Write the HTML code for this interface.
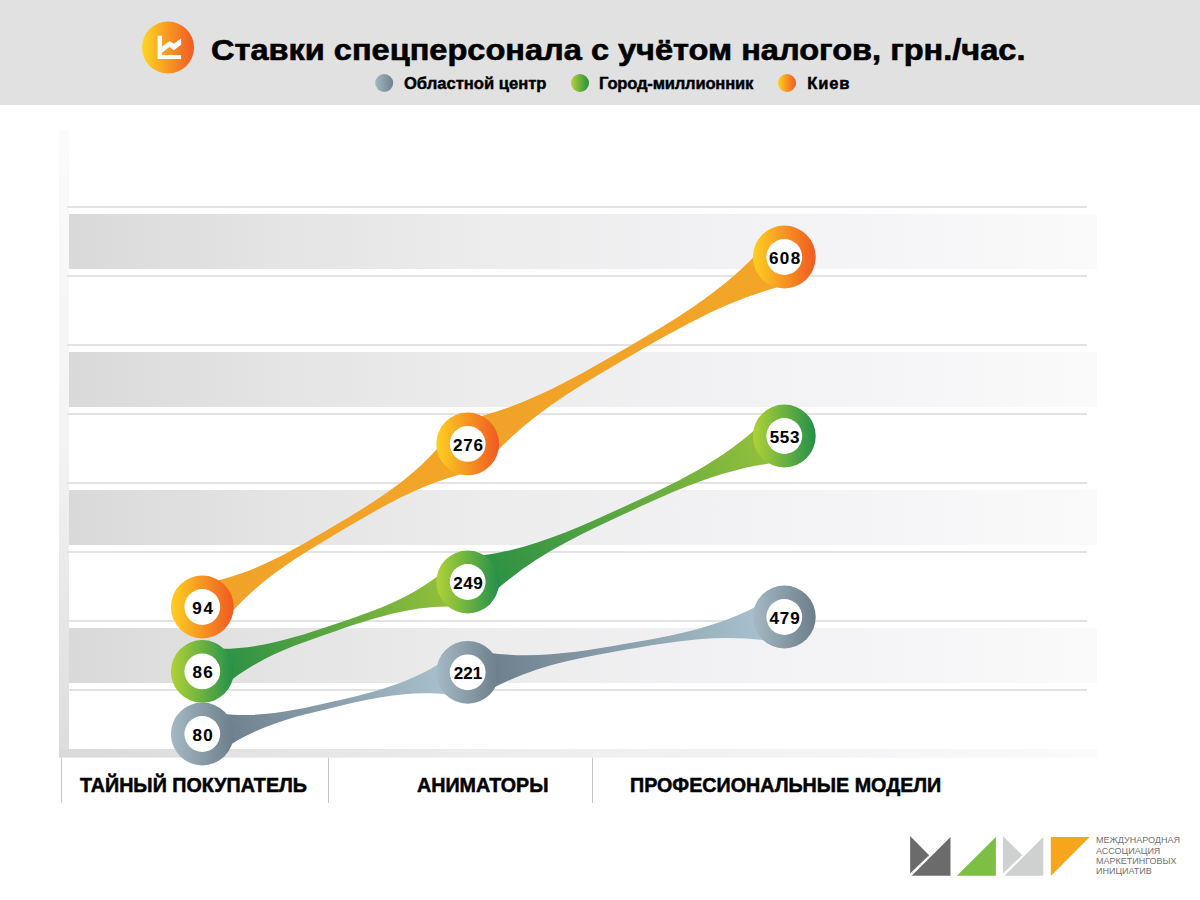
<!DOCTYPE html>
<html><head><meta charset="utf-8">
<style>
html,body{margin:0;padding:0;background:#fff;}
body{width:1200px;height:900px;overflow:hidden;}
svg{display:block;}
text{font-family:"Liberation Sans",sans-serif;}
.num{font-size:17px;font-weight:bold;text-anchor:middle;fill:#000;stroke:#000;stroke-width:0.1px;}
.title{font-size:32.55px;font-weight:bold;fill:#000;stroke:#000;stroke-width:0.7px;}
.leg{font-size:16.6px;font-weight:bold;fill:#000;stroke:#000;stroke-width:0.45px;}
.cat{font-size:19.7px;font-weight:bold;fill:#000;stroke:#000;stroke-width:0.5px;}
.logo{font-size:9px;fill:#727272;}
</style></head><body>
<svg width="1200" height="900" viewBox="0 0 1200 900">
<defs>
<linearGradient id="band" x1="0" y1="0" x2="1" y2="0"><stop offset="0" stop-color="#d9d9d9"/><stop offset="0.2" stop-color="#e4e4e5"/><stop offset="0.4" stop-color="#ececed"/><stop offset="0.7" stop-color="#f3f3f5"/><stop offset="1" stop-color="#fafafb"/></linearGradient>
<linearGradient id="vbar" x1="0" y1="0" x2="0" y2="1"><stop offset="0" stop-color="#fbfbfb"/><stop offset="0.5" stop-color="#f3f3f3"/><stop offset="1" stop-color="#dcdcdc"/></linearGradient>
<linearGradient id="icon" x1="0" y1="0" x2="1" y2="0"><stop offset="0" stop-color="#fdd722"/><stop offset="1" stop-color="#f15a22"/></linearGradient>
<linearGradient id="lgy" x1="0" y1="0" x2="1" y2="0"><stop offset="0" stop-color="#a3b7c3"/><stop offset="1" stop-color="#6f828e"/></linearGradient>
<linearGradient id="lgr" x1="0" y1="0" x2="1" y2="0"><stop offset="0" stop-color="#b3d236"/><stop offset="1" stop-color="#26903f"/></linearGradient>
<linearGradient id="lor" x1="0" y1="0" x2="1" y2="0"><stop offset="0" stop-color="#fdd021"/><stop offset="1" stop-color="#f05922"/></linearGradient>
<linearGradient id="ring_gy" x1="0" y1="0" x2="1" y2="0"><stop offset="0" stop-color="#a5b9c5"/><stop offset="1" stop-color="#6b7e8a"/></linearGradient><linearGradient id="rib_gy_0" gradientUnits="userSpaceOnUse" x1="227.3" y1="735.0" x2="442.7" y2="673.3"><stop offset="0" stop-color="#6e808d"/><stop offset="1" stop-color="#a8c0cd"/></linearGradient><linearGradient id="rib_gy_1" gradientUnits="userSpaceOnUse" x1="492.7" y1="674.3" x2="759.3" y2="619.0"><stop offset="0" stop-color="#6e808d"/><stop offset="1" stop-color="#a8c0cd"/></linearGradient><linearGradient id="ring_gr" x1="0" y1="0" x2="1" y2="0"><stop offset="0" stop-color="#b1d236"/><stop offset="1" stop-color="#23904a"/></linearGradient><linearGradient id="rib_gr_0" gradientUnits="userSpaceOnUse" x1="227.3" y1="672.4" x2="442.7" y2="583.0"><stop offset="0" stop-color="#2c9145"/><stop offset="1" stop-color="#92bf3b"/></linearGradient><linearGradient id="rib_gr_1" gradientUnits="userSpaceOnUse" x1="492.7" y1="582.5" x2="759.3" y2="436.5"><stop offset="0" stop-color="#2c9145"/><stop offset="1" stop-color="#92bf3b"/></linearGradient><linearGradient id="ring_or" x1="0" y1="0" x2="1" y2="0"><stop offset="0" stop-color="#fdd021"/><stop offset="1" stop-color="#f05922"/></linearGradient><linearGradient id="rib_or_0" gradientUnits="userSpaceOnUse" x1="227.3" y1="609.0" x2="442.7" y2="450.9"><stop offset="0" stop-color="#f1a228"/><stop offset="1" stop-color="#f2a527"/></linearGradient><linearGradient id="rib_or_1" gradientUnits="userSpaceOnUse" x1="492.7" y1="445.4" x2="759.3" y2="261.5"><stop offset="0" stop-color="#f1a228"/><stop offset="1" stop-color="#f2a527"/></linearGradient>
</defs>
<rect x="0" y="0" width="1200" height="105" fill="#e1e1e1"/>
<circle cx="168" cy="47.5" r="26" fill="url(#icon)"/>
<path d="M157.6,35.8 H161.9 V54.9 H181.1 V59 H157.6 Z" fill="#fcfcfc"/>
<path d="M161.5,47.1 L169.46,40.89 L173.74,43.81 L181.1,38.6 L181.1,44.79 L173.74,50.23 L169.46,47.12 L161.5,53 Z" fill="#fcfcfc"/>
<text x="211" y="0" class="title" transform="translate(0,59.6) scale(1,0.92)">Ставки спецперсонала с учётом налогов, грн./час.</text>
<circle cx="384.2" cy="83" r="9" fill="url(#lgy)"/>
<text x="403.9" y="89.3" class="leg">Областной центр</text>
<circle cx="580" cy="83" r="9" fill="url(#lgr)"/>
<text x="599" y="89.3" class="leg" letter-spacing="-0.2">Город-миллионник</text>
<circle cx="787" cy="83" r="9" fill="url(#lor)"/>
<text x="807.2" y="89.3" class="leg" letter-spacing="0.85">Киев</text>

<rect x="59" y="130" width="10" height="627" fill="url(#vbar)"/>
<rect x="67" y="206" width="1020" height="2" fill="#e3e3e3"/><rect x="67" y="275" width="1020" height="2" fill="#e3e3e3"/><rect x="67" y="344" width="1020" height="2" fill="#e3e3e3"/><rect x="67" y="413" width="1020" height="2" fill="#e3e3e3"/><rect x="67" y="482" width="1020" height="2" fill="#e3e3e3"/><rect x="67" y="551" width="1020" height="2" fill="#e3e3e3"/><rect x="67" y="620" width="1020" height="2" fill="#e3e3e3"/><rect x="67" y="689" width="1020" height="2" fill="#e3e3e3"/>
<rect x="69" y="214" width="1028" height="55" fill="url(#band)"/><rect x="69" y="352" width="1028" height="55" fill="url(#band)"/><rect x="69" y="490" width="1028" height="55" fill="url(#band)"/><rect x="69" y="628" width="1028" height="55" fill="url(#band)"/>
<rect x="59" y="749" width="1038" height="8.6" fill="url(#band)"/>
<rect x="61" y="757.6" width="1" height="45.4" fill="#c8c8c8"/>
<rect x="328" y="757.6" width="1" height="45.4" fill="#c8c8c8"/>
<rect x="592" y="757.6" width="1" height="45.4" fill="#c8c8c8"/>
<text x="80" y="791.6" class="cat">ТАЙНЫЙ ПОКУПАТЕЛЬ</text>
<text x="417" y="791.6" class="cat">АНИМАТОРЫ</text>
<text x="630" y="791.6" class="cat">ПРОФЕСИОНАЛЬНЫЕ МОДЕЛИ</text>

<path d="M196.19,708.70 C245.88,721.89 290.11,711.61 334.34,701.33 C378.58,691.04 422.81,680.76 461.59,647.00 L473.81,699.60 C424.12,686.41 379.89,696.69 335.66,706.97 C291.42,717.26 247.19,727.54 208.41,761.30 Z" fill="url(#rib_gy_0)"/><path d="M463.05,647.70 C519.97,662.23 572.73,653.01 625.50,643.79 C678.27,634.58 731.03,625.36 779.65,592.40 L788.87,645.13 C732.03,631.07 679.27,640.29 626.50,649.51 C573.73,658.72 520.97,667.94 472.27,700.43 Z" fill="url(#rib_gy_1)"/><path d="M193.68,646.81 C245.45,654.28 289.68,639.38 333.91,624.48 C378.15,609.58 422.38,594.68 459.08,557.41 L476.32,608.59 C424.55,601.12 380.32,616.02 336.09,630.92 C291.85,645.82 247.62,660.72 210.92,697.99 Z" fill="url(#rib_gr_0)"/><path d="M456.39,557.98 C519.04,555.08 571.81,530.75 624.58,506.41 C677.34,482.08 730.11,457.75 772.99,411.98 L795.61,461.02 C732.96,463.92 680.19,488.25 627.42,512.59 C574.66,536.92 521.89,561.25 479.01,607.02 Z" fill="url(#rib_gr_1)"/><path d="M188.48,585.80 C244.54,579.30 288.77,552.95 333.00,526.60 C377.24,500.25 421.47,473.90 453.88,427.70 L479.56,469.82 C425.46,480.60 381.23,506.95 337.00,533.30 C292.76,559.65 248.53,586.00 216.00,631.99 Z" fill="url(#rib_or_0)"/><path d="M454.14,422.05 C518.21,410.86 570.97,380.21 623.74,349.56 C676.51,318.91 729.27,288.26 770.74,238.15 L796.78,282.62 C733.79,296.04 681.03,326.69 628.26,357.34 C575.49,387.99 522.73,418.64 481.26,468.75 Z" fill="url(#rib_or_1)"/>
<circle cx="202.3" cy="734.0" r="31.4" fill="url(#ring_gy)"/><circle cx="202.3" cy="734.0" r="17.9" fill="#fff"/><text x="202.60" y="740.7" class="num" textLength="20.4" lengthAdjust="spacing">80</text><circle cx="467.7" cy="672.3" r="31.4" fill="url(#ring_gy)"/><circle cx="467.7" cy="672.3" r="17.9" fill="#fff"/><text x="468.00" y="679.0" class="num" textLength="28.4" lengthAdjust="spacing">221</text><circle cx="784.3" cy="617.0" r="31.4" fill="url(#ring_gy)"/><circle cx="784.3" cy="617.0" r="17.9" fill="#fff"/><text x="784.60" y="623.7" class="num" textLength="30.1" lengthAdjust="spacing">479</text><circle cx="202.3" cy="671.4" r="31.4" fill="url(#ring_gr)"/><circle cx="202.3" cy="671.4" r="17.9" fill="#fff"/><text x="202.60" y="678.1" class="num" textLength="20.4" lengthAdjust="spacing">86</text><circle cx="467.7" cy="582.0" r="31.4" fill="url(#ring_gr)"/><circle cx="467.7" cy="582.0" r="17.9" fill="#fff"/><text x="468.00" y="588.7" class="num" textLength="29.6" lengthAdjust="spacing">249</text><circle cx="784.3" cy="436.0" r="31.4" fill="url(#ring_gr)"/><circle cx="784.3" cy="436.0" r="17.9" fill="#fff"/><text x="784.60" y="442.7" class="num" textLength="29.7" lengthAdjust="spacing">553</text><circle cx="202.3" cy="607.0" r="31.4" fill="url(#ring_or)"/><circle cx="202.3" cy="607.0" r="17.9" fill="#fff"/><text x="202.60" y="613.7" class="num" textLength="20.5" lengthAdjust="spacing">94</text><circle cx="467.7" cy="443.9" r="31.4" fill="url(#ring_or)"/><circle cx="467.7" cy="443.9" r="17.9" fill="#fff"/><text x="468.00" y="450.6" class="num" textLength="29.9" lengthAdjust="spacing">276</text><circle cx="784.3" cy="257.0" r="31.4" fill="url(#ring_or)"/><circle cx="784.3" cy="257.0" r="17.9" fill="#fff"/><text x="784.60" y="263.7" class="num" textLength="31.0" lengthAdjust="spacing">608</text>

<polygon points="910.1,835.9 929.1,855.2 910.1,873.4" fill="#6b6b6b"/>
<polygon points="950.5,837.1 950.5,875.8 911.7,875.8" fill="#6b6b6b"/>
<polygon points="995.9,837.1 995.9,875.8 956.9,875.8" fill="#7dbf45"/>
<polygon points="1002.9,835.9 1022.3,855.2 1002.9,873.5" fill="#cfd0d0"/>
<polygon points="1043.3,837.1 1043.3,875.8 1004.5,875.8" fill="#cfd0d0"/>
<polygon points="1050.8,837.1 1089.6,837.1 1050.8,875.9" fill="#f8a51e"/>
<text x="1096" y="843.4" class="logo">МЕЖДУНАРОДНАЯ</text>
<text x="1096" y="853.8" class="logo">АССОЦИАЦИЯ</text>
<text x="1096" y="864.1" class="logo">МАРКЕТИНГОВЫХ</text>
<text x="1096" y="874.3" class="logo">ИНИЦИАТИВ</text>
</svg>
</body></html>
